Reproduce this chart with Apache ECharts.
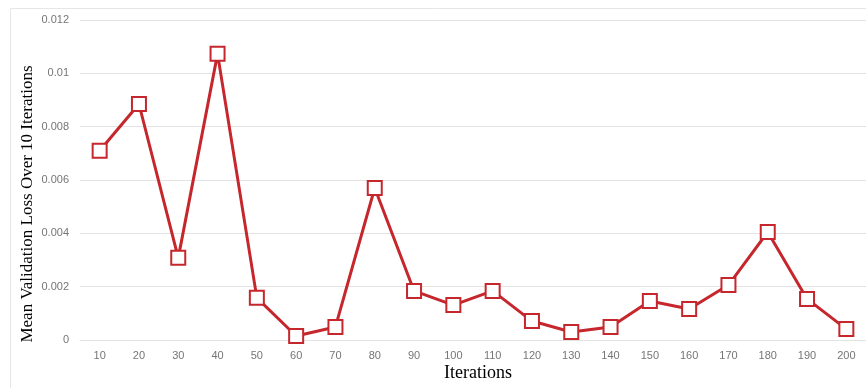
<!DOCTYPE html>
<html><head><meta charset="utf-8">
<script src="https://cdn.jsdelivr.net/npm/echarts@6/dist/echarts.min.js"></script>
<style>html,body{margin:0;padding:0;background:#fff}#c{width:866px;height:388px}</style>
</head><body><div id="c"></div>
<script>
const categories = ['10','20','30','40','50','60','70','80','90','100','110','120','130','140','150','160','170','180','190','200'];
const lossValues = [0.0071,0.00885,0.00308,0.01073,0.00158,0.00015,0.00049,0.0057,0.00184,0.00131,0.00184,0.00071,0.0003,0.00049,0.00146,0.00116,0.00206,0.00405,0.00154,0.00041];
const yTicks = [0,0.002,0.004,0.006,0.008,0.01,0.012];

const chart = echarts.init(document.getElementById('c'));
chart.setOption({
  animation:false,
  graphic:[{type:'polyline',shape:{points:[[10.5,388],[10.5,8.5],[866,8.5]]},style:{stroke:'#e6e6e6',lineWidth:1,fill:null},z:-1}],
  grid:{left:80,right:0,top:20,bottom:48,containLabel:false,outerBoundsMode:'none'},
  xAxis:{type:'category',data:categories,boundaryGap:true,
    axisLine:{show:true,lineStyle:{color:'#e3e3e3',width:1}},axisTick:{show:false},
    axisLabel:{color:'#757575',fontFamily:'Liberation Sans, Arial',fontSize:11,margin:10},
    name:'Iterations',nameLocation:'middle',nameGap:24,nameMoveOverlap:false,
    nameTextStyle:{fontFamily:'Liberation Serif, Times New Roman',fontSize:18,color:'#000',padding:[0,0,0,10]}},
  yAxis:{type:'value',min:0,max:0.012,interval:0.002,
    axisLine:{show:false},axisTick:{show:false},
    splitLine:{lineStyle:{color:'#e3e3e3',width:1}},
    axisLabel:{color:'#757575',fontFamily:'Liberation Sans, Arial',fontSize:11,margin:11,
      formatter:v=>{const t=yTicks.find(x=>Math.abs(x-v)<1e-9);return String(t!==undefined?t:v);}},
    name:'Mean Validation Loss Over 10 Iterations',nameLocation:'middle',nameGap:44,nameMoveOverlap:false,
    nameTextStyle:{fontFamily:'Liberation Serif, Times New Roman',fontSize:17,color:'#000',padding:[0,48,0,0]}},
  series:[{type:'line',data:lossValues,
    lineStyle:{color:'#c5272d',width:3},
    symbol:'rect',symbolSize:14,showAllSymbol:true,
    itemStyle:{color:'#fff',borderColor:'#c5272d',borderWidth:2}}]
});
</script></body></html>
